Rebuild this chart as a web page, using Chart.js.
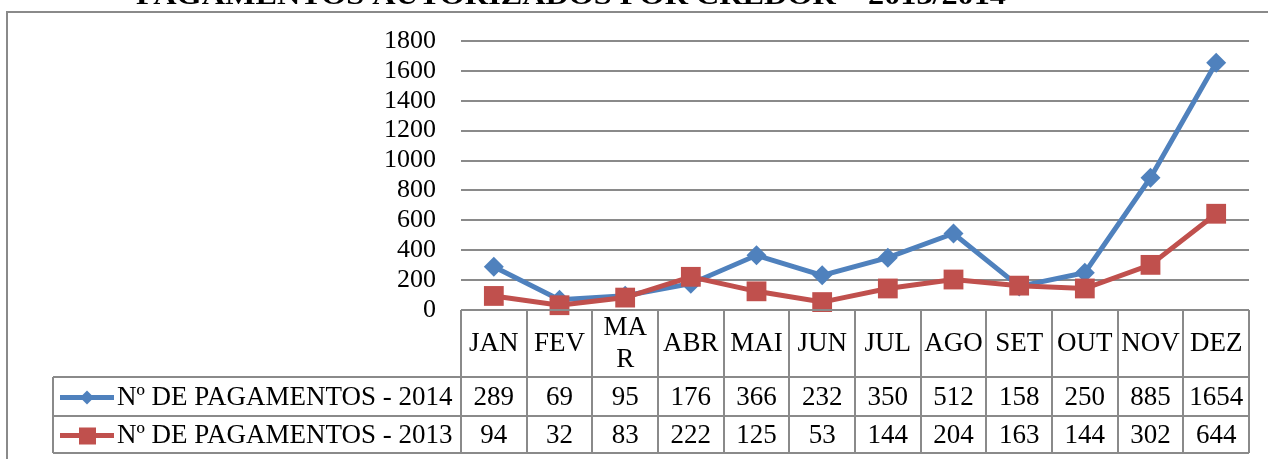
<!DOCTYPE html>
<html>
<head>
<meta charset="utf-8">
<script src="https://cdn.jsdelivr.net/npm/chart.js@4.4.0/dist/chart.umd.min.js"></script>
<style>
  html, body { margin: 0; padding: 0; background: #fff; }
  #wrap { width: 1268px; height: 459px; position: relative; }
</style>
</head>
<body>
<div id="wrap"><canvas id="c" width="1268" height="459"></canvas></div>
<script>
// ---- Data ----
const titleText = 'PAGAMENTOS AUTORIZADOS POR CREDOR – 2013/2014';
const months = ['JAN', 'FEV', 'MAR', 'ABR', 'MAI', 'JUN', 'JUL', 'AGO', 'SET', 'OUT', 'NOV', 'DEZ'];
const label2014 = 'Nº DE PAGAMENTOS - 2014';
const label2013 = 'Nº DE PAGAMENTOS - 2013';
const pag2014 = [289, 69, 95, 176, 366, 232, 350, 512, 158, 250, 885, 1654];
const pag2013 = [94, 32, 83, 222, 125, 53, 144, 204, 163, 144, 302, 644];
const yMax = 1800;
const yStep = 200;

const BLUE = '#4F81BD';
const RED = '#C0504D';
const GRID = '#8a8a8a';
const SERIF = '"Liberation Serif", "Times New Roman", serif';

// ---- Data table + frame + title ----
const tablePlugin = {
    id: 'dataTable',
    afterDraw(chart) {
        const { ctx, chartArea: area, scales: { x } } = chart;
        const colW = (area.right - area.left) / months.length;
        const tableLeft = 53;
        const yHead = area.bottom + 67;   // bottom of header row
        const yRow1 = yHead + 39;
        const yRow2 = yRow1 + 37;

        ctx.save();

        // outer chart frame (only left and top visible)
        ctx.strokeStyle = GRID;
        ctx.lineWidth = 2;
        ctx.beginPath();
        ctx.moveTo(7, 459);
        ctx.lineTo(7, 12);
        ctx.lineTo(1268, 12);
        ctx.stroke();

        // title, cut by the top edge
        ctx.font = 'bold 28px ' + SERIF;
        ctx.fillStyle = '#000';
        ctx.textAlign = 'center';
        ctx.textBaseline = 'alphabetic';
        const tw = ctx.measureText(titleText).width;
        ctx.save();
        ctx.translate(571, 4);
        ctx.scale(870 / tw, 1);
        ctx.fillText(titleText, 0, 0);
        ctx.restore();

        // table grid
        ctx.strokeStyle = GRID;
        ctx.lineWidth = 2;
        ctx.beginPath();
        for (let i = 0; i <= months.length; i++) {
            const xx = Math.round(area.left + i * colW);
            ctx.moveTo(xx, area.bottom);
            ctx.lineTo(xx, yRow2);
        }
        ctx.moveTo(area.left, area.bottom);
        ctx.lineTo(area.right, area.bottom);
        [yHead, yRow1, yRow2].forEach(yy => {
            ctx.moveTo(tableLeft, yy);
            ctx.lineTo(area.right, yy);
        });
        ctx.moveTo(tableLeft, yHead);
        ctx.lineTo(tableLeft, yRow2);
        ctx.stroke();

        // header labels (wrap by character when too wide)
        ctx.font = '27px ' + SERIF;
        ctx.fillStyle = '#000';
        ctx.textAlign = 'center';
        ctx.textBaseline = 'middle';
        const headMid = (area.bottom + yHead) / 2;
        months.forEach((m, i) => {
            const cx = x.getPixelForValue(i);
            if (ctx.measureText(m).width > colW - 5) {
                const a = m.slice(0, m.length - 1), b = m.slice(-1);
                ctx.fillText(a, cx, headMid - 16);
                ctx.fillText(b, cx, headMid + 16);
            } else {
                ctx.fillText(m, cx, headMid);
            }
        });

        // values
        const mid1 = (yHead + yRow1) / 2 + 1;
        const mid2 = (yRow1 + yRow2) / 2 + 1;
        pag2014.forEach((v, i) => ctx.fillText(String(v), x.getPixelForValue(i), mid1));
        pag2013.forEach((v, i) => ctx.fillText(String(v), x.getPixelForValue(i), mid2));

        // legend keys
        ctx.textAlign = 'left';
        ctx.fillText(label2014, 117, mid1);
        ctx.fillText(label2013, 117, mid2);

        ctx.lineWidth = 5;
        ctx.strokeStyle = BLUE;
        ctx.beginPath(); ctx.moveTo(60, mid1); ctx.lineTo(114, mid1); ctx.stroke();
        ctx.fillStyle = BLUE;
        ctx.beginPath();
        ctx.moveTo(87, mid1 - 7); ctx.lineTo(94, mid1); ctx.lineTo(87, mid1 + 7); ctx.lineTo(80, mid1);
        ctx.closePath(); ctx.fill();

        ctx.strokeStyle = RED;
        ctx.beginPath(); ctx.moveTo(60, mid2); ctx.lineTo(114, mid2); ctx.stroke();
        ctx.fillStyle = RED;
        ctx.fillRect(79, mid2 - 8, 17, 17);

        ctx.restore();
    }
};

// ---- Config ----
const config = {
    type: 'line',
    data: {
        labels: months,
        datasets: [
            {
                label: label2014,
                data: pag2014,
                borderColor: BLUE,
                backgroundColor: BLUE,
                borderWidth: 5,
                tension: 0,
                pointStyle: 'rectRot',
                pointRadius: 10,
                pointBorderWidth: 0,
                pointBackgroundColor: BLUE,
                clip: false,
                order: 1
            },
            {
                label: label2013,
                data: pag2013,
                borderColor: RED,
                backgroundColor: RED,
                borderWidth: 5,
                tension: 0,
                pointStyle: 'rect',
                pointRadius: 14,
                pointBorderWidth: 0,
                pointBackgroundColor: RED,
                clip: false,
                order: 0
            }
        ]
    },
    options: {
        responsive: false,
        animation: false,
        devicePixelRatio: 1,
        layout: { padding: { left: 381, right: 19, top: 41, bottom: 149 } },
        plugins: {
            legend: { display: false },
            tooltip: { enabled: false },
            title: { display: false }
        },
        scales: {
            x: {
                type: 'category',
                offset: true,
                display: false
            },
            y: {
                min: 0,
                max: yMax,
                afterFit: (s) => { s.width = 80; },
                border: { display: false },
                grid: { color: GRID, lineWidth: 2, drawTicks: false },
                ticks: {
                    stepSize: yStep,
                    autoSkip: false,
                    padding: 25,
                    color: '#000',
                    font: { family: SERIF, size: 26 },
                    callback: (v) => String(v)
                }
            }
        }
    },
    plugins: [tablePlugin]
};

// ---- Create chart ----
new Chart(document.getElementById('c').getContext('2d'), config);
</script>
</body>
</html>
